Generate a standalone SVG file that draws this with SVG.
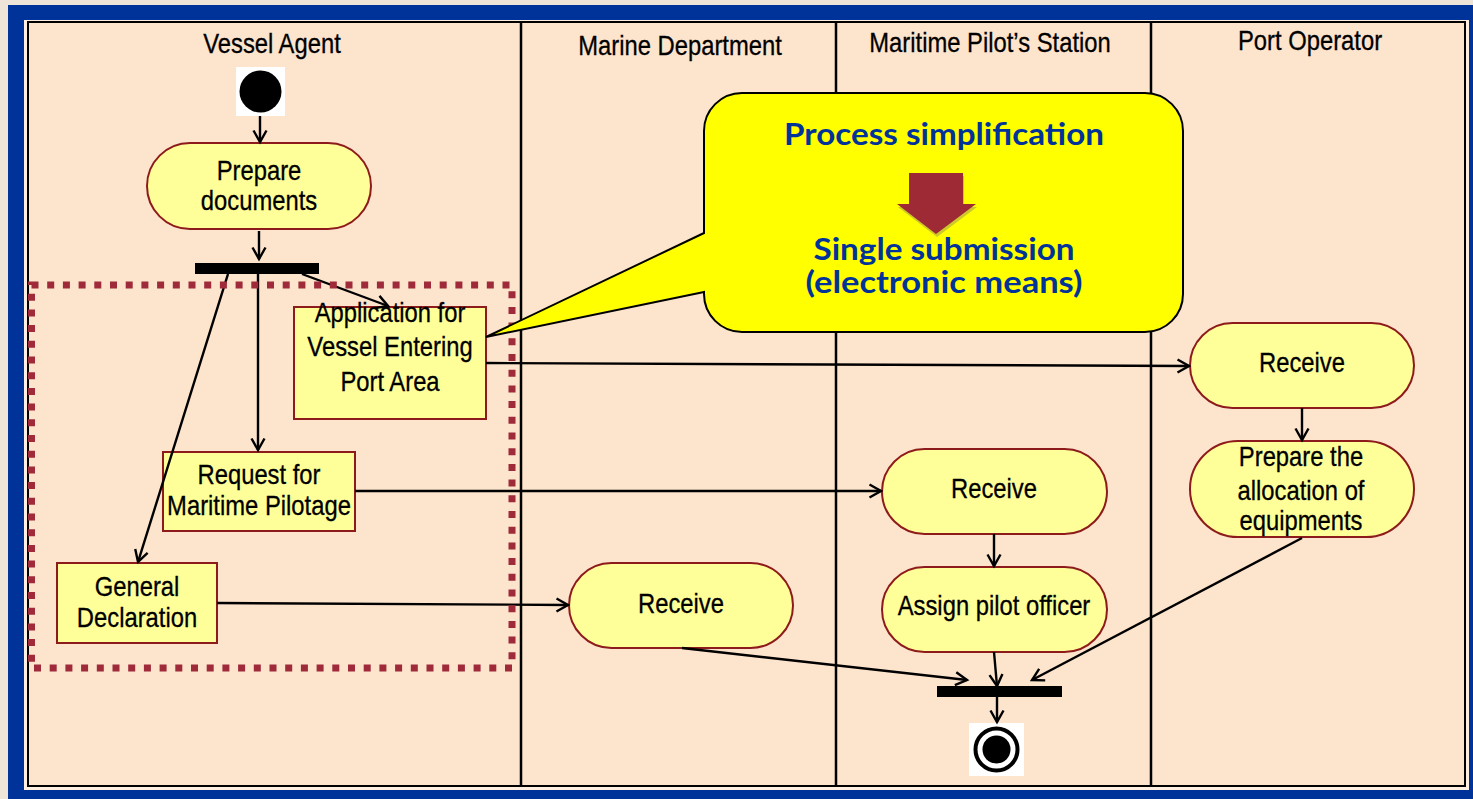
<svg xmlns="http://www.w3.org/2000/svg" width="1473" height="799" viewBox="0 0 1473 799">
<style>
.t{font-family:"Liberation Sans",Arial,sans-serif;font-size:28px;fill:#000;text-anchor:middle;stroke:#000;stroke-width:0.3}
.node{fill:#FFFF99;stroke:#8E1B1B;stroke-width:2}
.lane{fill:none;stroke:#000;stroke-width:2.5}
.c{fill:none;stroke:#000;stroke-width:2.4;marker-end:url(#a)}
.ct{font-family:Lato,"Liberation Sans",sans-serif;font-weight:bold;font-size:30px;fill:#003399;text-anchor:middle}
</style>
<defs>
<marker id="a" markerWidth="16" markerHeight="16" refX="13" refY="8" orient="auto" markerUnits="userSpaceOnUse">
<path d="M1.5,1.5 L13,8 L1.5,14.5" fill="none" stroke="#000" stroke-width="2.4"/>
</marker>
</defs>
<rect x="0" y="0" width="1473" height="799" fill="#EEE4D7"/>
<rect x="8" y="5" width="1465" height="794" fill="#003399"/>
<rect x="24" y="20" width="1445" height="770" fill="#FEEEDF"/>
<g id="lanes">
<rect x="28" y="22" width="1437" height="764" fill="#FDE4CD" stroke="#000" stroke-width="2"/>
<line class="lane" x1="521" y1="22" x2="521" y2="786"/>
<line class="lane" x1="836" y1="22" x2="836" y2="786"/>
<line class="lane" x1="1151" y1="22" x2="1151" y2="786"/>
<text class="t" transform="translate(272 0) scale(0.85 1)" y="53">Vessel Agent</text>
<text class="t" transform="translate(680 0) scale(0.85 1)" y="55">Marine Department</text>
<text class="t" transform="translate(990 0) scale(0.85 1)" y="52">Maritime Pilot’s Station</text>
<text class="t" transform="translate(1310 0) scale(0.85 1)" y="50">Port Operator</text>
</g>
<g id="start">
<rect x="236" y="67" width="49" height="49" fill="#fff"/>
<circle cx="260.5" cy="91.5" r="21" fill="#000"/>
</g>
<g id="prepare-documents">
<rect class="node" x="147" y="143" width="224" height="86" rx="43"/>
<text class="t" transform="translate(259 0) scale(0.85 1)"><tspan x="0" y="180">Prepare</tspan><tspan x="0" y="210">documents</tspan></text>
</g>
<g id="fork">
<rect x="195" y="263" width="124" height="11" fill="#000"/>
</g>
<g id="application">
<rect class="node" x="294" y="307" width="192" height="112"/>
<text class="t" transform="translate(390 0) scale(0.85 1)"><tspan x="0" y="322">Application for</tspan><tspan x="0" y="356">Vessel Entering</tspan><tspan x="0" y="391">Port Area</tspan></text>
</g>
<g id="request-pilotage">
<rect class="node" x="163" y="452" width="192" height="79"/>
<text class="t" transform="translate(259 0) scale(0.85 1)"><tspan x="0" y="484">Request for</tspan><tspan x="0" y="515">Maritime Pilotage</tspan></text>
</g>
<g id="general-declaration">
<rect class="node" x="57" y="563" width="160" height="80"/>
<text class="t" transform="translate(137 0) scale(0.85 1)"><tspan x="0" y="596">General</tspan><tspan x="0" y="627">Declaration</tspan></text>
</g>
<g id="marine-receive">
<rect class="node" x="569" y="563" width="224" height="85" rx="42.5"/>
<text class="t" transform="translate(681 0) scale(0.85 1)" y="613">Receive</text>
</g>
<g id="pilot-receive">
<rect class="node" x="882" y="449" width="225" height="85" rx="42.5"/>
<text class="t" transform="translate(994 0) scale(0.85 1)" y="498">Receive</text>
</g>
<g id="assign-pilot">
<rect class="node" x="882" y="567" width="225" height="85" rx="42.5"/>
<text class="t" transform="translate(994 0) scale(0.85 1)" y="615">Assign pilot officer</text>
</g>
<g id="port-receive">
<rect class="node" x="1190" y="323" width="224" height="85" rx="42.5"/>
<text class="t" transform="translate(1302 0) scale(0.85 1)" y="372">Receive</text>
</g>
<g id="prepare-allocation">
<rect class="node" x="1190" y="441" width="224" height="96" rx="48"/>
<text class="t" transform="translate(1301 0) scale(0.85 1)"><tspan x="0" y="466">Prepare the</tspan><tspan x="0" y="500">allocation of</tspan><tspan x="0" y="530">equipments</tspan></text>
</g>
<g id="join">
<rect x="937" y="686" width="125" height="11" fill="#000"/>
</g>
<g id="end">
<rect x="969" y="723" width="55" height="53" fill="#fff"/>
<circle cx="996.5" cy="749.5" r="21" fill="none" stroke="#000" stroke-width="4"/>
<circle cx="996.5" cy="749.5" r="14" fill="#000"/>
</g>
<g id="connectors">
<line class="c" x1="260" y1="116" x2="260" y2="142"/>
<line class="c" x1="259" y1="231" x2="259" y2="259"/>
<line class="c" x1="228" y1="274" x2="138" y2="562"/>
<line class="c" x1="258" y1="274" x2="258" y2="450"/>
<line class="c" x1="302" y1="274" x2="388" y2="306"/>
<line class="c" x1="486" y1="363" x2="1189" y2="366"/>
<line class="c" x1="355" y1="491" x2="881" y2="491"/>
<line class="c" x1="217" y1="603" x2="568" y2="605"/>
<line class="c" x1="1302" y1="408" x2="1302" y2="440"/>
<line class="c" x1="994" y1="534" x2="994" y2="566"/>
<line class="c" x1="682" y1="648" x2="967" y2="680"/>
<line class="c" x1="994" y1="652" x2="997" y2="686"/>
<line class="c" x1="1302" y1="538" x2="1032" y2="680"/>
<line class="c" x1="997" y1="697" x2="997" y2="722"/>
</g>
<g id="scope">
<rect x="31.5" y="285" width="480.5" height="383" fill="none" stroke="#9E2A3A" stroke-width="7" stroke-dasharray="7 8.7"/>
</g>
<g id="callout">
<path d="M742,93 H1145 A38,38 0 0 1 1183,131 V294 A38,38 0 0 1 1145,332 H742 A38,38 0 0 1 704,294 V292 L486,337 L704,233 V131 A38,38 0 0 1 742,93 Z" fill="#FFFF00" stroke="#000" stroke-width="2"/>
<text class="ct" x="944" y="145" textLength="320" lengthAdjust="spacingAndGlyphs">Process simplification</text>
<polygon points="910,176 964,176 964,207 977,207 937,237 898,207 910,207" fill="#C2BA36" opacity="0.8"/>
<polygon points="909,173 963,173 963,204 976,204 936,234 897,204 909,204" fill="#9E2A35"/>
<text class="ct" x="944" y="260" textLength="261" lengthAdjust="spacingAndGlyphs">Single submission</text>
<text class="ct" x="944" y="293" textLength="277" lengthAdjust="spacingAndGlyphs">(electronic means)</text>
</g>
</svg>
